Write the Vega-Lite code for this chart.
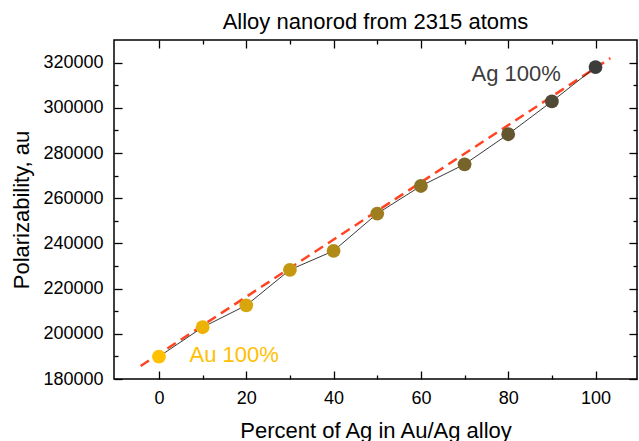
{
  "$schema": "https://vega.github.io/schema/vega-lite/v6.json",
  "width": 523,
  "height": 339,
  "autosize": {"type": "none"},
  "padding": {"left": 114, "top": 40, "right": 2, "bottom": 62},
  "background": "white",
  "title": {"text": "Alloy nanorod from 2315 atoms", "fontSize": 22, "fontWeight": "normal", "font": "Liberation Sans", "color": "black", "anchor": "middle", "baseline": "alphabetic", "offset": 6, "dy": 18},
  "config": {
    "font": "Liberation Sans",
    "view": {"stroke": "black", "strokeWidth": 1.5},
    "axis": {"grid": false, "domain": false, "tickColor": "black", "tickWidth": 1.3, "labelColor": "black", "labelFontSize": 18, "labelFont": "Liberation Sans", "titleFont": "Liberation Sans", "titleFontSize": 22, "titleFontWeight": "normal", "titleColor": "black"}
  },
  "datasets": {
    "pts": [
      {"pct": 0, "pol": 189900},
      {"pct": 10, "pol": 202900},
      {"pct": 20, "pol": 212600},
      {"pct": 30, "pol": 228300},
      {"pct": 40, "pol": 236700},
      {"pct": 50, "pol": 253200},
      {"pct": 60, "pol": 265400},
      {"pct": 70, "pol": 275000},
      {"pct": 80, "pol": 288300},
      {"pct": 90, "pol": 302800},
      {"pct": 100, "pol": 318000}
    ],
    "fit": [
      {"pct": -4.2, "pol": 185750},
      {"pct": 103.4, "pol": 321960}
    ],
    "notes": [
      {"pct": 7, "pol": 187660, "ref": 0, "label": "Au 100%"},
      {"pct": 71.6, "pol": 312050, "ref": 100, "label": "Ag 100%"}
    ]
  },
  "resolve": {"axis": {"x": "independent", "y": "independent"}},
  "layer": [
    {
      "data": {"name": "fit"},
      "mark": {"type": "line", "color": "#FF4422", "strokeWidth": 2.5, "strokeDash": [10, 6]},
      "encoding": {
        "x": {"field": "pct", "type": "quantitative", "scale": {"domain": [-10.3, 109.5], "nice": false, "zero": false},
              "axis": {"orient": "bottom", "values": [0, 20, 40, 60, 80, 100], "tickSize": -8, "labelPadding": 18, "title": "Percent of Ag in Au/Ag alloy", "titlePadding": 13}},
        "y": {"field": "pol", "type": "quantitative", "scale": {"domain": [180000, 330000], "nice": false, "zero": false},
              "axis": {"orient": "left", "values": [180000, 200000, 220000, 240000, 260000, 280000, 300000, 320000], "format": "d", "tickSize": -8, "labelPadding": 19, "title": "Polarizability, au", "titlePadding": 9}}
      }
    },
    {
      "data": {"name": "pts"},
      "mark": {"type": "line", "color": "#222222", "strokeWidth": 0.9},
      "encoding": {
        "x": {"field": "pct", "type": "quantitative", "axis": {"orient": "bottom", "values": [10, 30, 50, 70, 90], "tickSize": -4, "labels": false, "title": null}},
        "y": {"field": "pol", "type": "quantitative", "axis": {"orient": "left", "values": [190000, 210000, 230000, 250000, 270000, 290000, 310000], "tickSize": -4, "labels": false, "title": null}}
      }
    },
    {
      "data": {"name": "pts"},
      "mark": {"type": "point", "filled": true, "opacity": 1, "size": 190},
      "encoding": {
        "x": {"field": "pct", "type": "quantitative", "axis": {"orient": "top", "values": [0, 20, 40, 60, 80, 100], "tickSize": -8, "labels": false, "title": null}},
        "y": {"field": "pol", "type": "quantitative", "axis": {"orient": "right", "values": [180000, 200000, 220000, 240000, 260000, 280000, 300000, 320000], "tickSize": -8, "labels": false, "title": null}},
        "color": {"field": "pct", "type": "quantitative", "scale": {"domain": [0, 100], "range": ["#FFC000", "#3C3C3C"], "interpolate": "rgb"}, "legend": null}
      }
    },
    {
      "data": {"name": "notes"},
      "mark": {"type": "text", "align": "left", "baseline": "alphabetic", "fontSize": 22, "font": "Liberation Sans"},
      "encoding": {
        "x": {"field": "pct", "type": "quantitative", "axis": {"orient": "top", "values": [10, 30, 50, 70, 90], "tickSize": -4, "labels": false, "title": null}},
        "y": {"field": "pol", "type": "quantitative", "axis": {"orient": "right", "values": [190000, 210000, 230000, 250000, 270000, 290000, 310000], "tickSize": -4, "labels": false, "title": null}},
        "text": {"field": "label"},
        "color": {"field": "ref", "type": "quantitative", "legend": null}
      }
    }
  ]
}
